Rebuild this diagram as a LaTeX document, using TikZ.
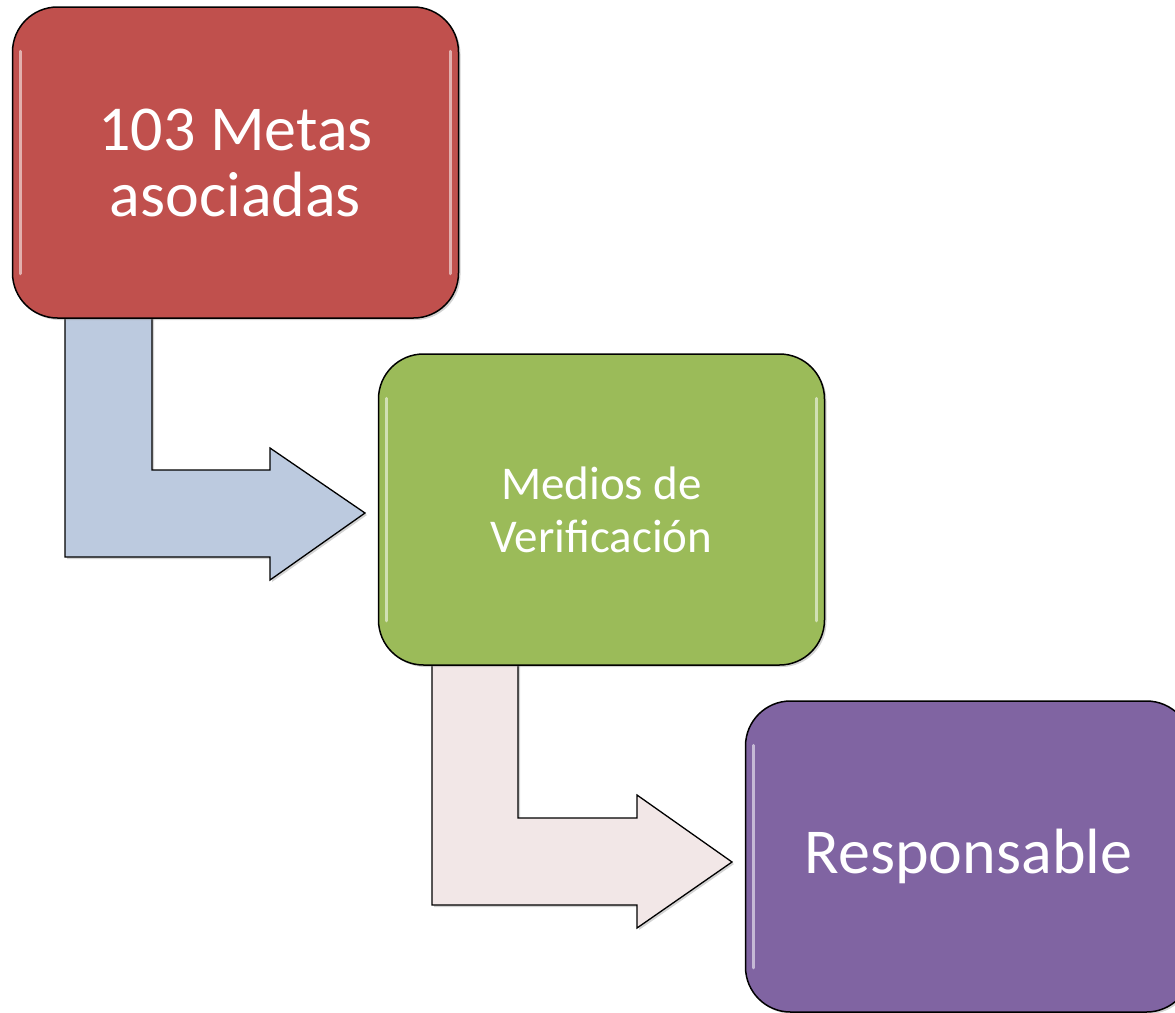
\documentclass[tikz,border=0pt]{standalone}
\usepackage{fontspec}
\setmainfont{Carlito}
\usetikzlibrary{shadows}
\definecolor{redbox}{HTML}{C0504D}
\definecolor{greenbox}{HTML}{9BBB59}
\definecolor{purplebox}{HTML}{8064A2}
\definecolor{bluearrow}{HTML}{BCCADF}
\definecolor{pinkarrow}{HTML}{F2E7E7}
\tikzset{
  stepbox/.style={draw=black, line width=1.5pt, rounded corners=45pt,
    minimum width=446pt, minimum height=311pt, inner sep=0pt,
    text=white, align=center,
    drop shadow={opacity=0.35, shadow xshift=2pt, shadow yshift=-2pt}},
  bentarrow/.style={draw=black, line width=1.3pt, line join=miter,
    drop shadow={opacity=0.35, shadow xshift=2pt, shadow yshift=-2pt}},
  gloss/.style={white, line width=3pt, opacity=0.55, line cap=round}
}
\begin{document}
\begin{tikzpicture}[x=1pt,y=-1pt]
\useasboundingbox (0,0) rectangle (1175,1012);
\clip (0,0) rectangle (1175,1012);
% bent arrows (drawn first, under the boxes)
\draw[bentarrow, fill=bluearrow] (65,300) -- (152,300) -- (152,470) -- (270,470) -- (270,448)
  -- (365,513) -- (270,580) -- (270,557) -- (65,557) -- cycle;
\draw[bentarrow, fill=pinkarrow] (432,650) -- (518,650) -- (518,818) -- (637,818) -- (637,795)
  -- (732,862) -- (637,928) -- (637,905) -- (432,905) -- cycle;
% boxes
\node[stepbox, fill=redbox, font=\fontsize{64}{66}\selectfont] (metas) at (235.5,162.5)
  {103 Metas\\asociadas};
\node[stepbox, fill=greenbox, font=\fontsize{47}{53}\selectfont] (medios) at (601.5,509.5)
  {Medios de\\Verificación};
\node[stepbox, fill=purplebox, font=\fontsize{64}{70}\selectfont] (resp) at (968.5,856.5)
  {Responsable};
% gloss highlights
\foreach \b in {metas,medios,resp}{
  \draw[gloss] ([xshift=9pt,yshift=-45pt]\b.north west) -- ([xshift=9pt,yshift=45pt]\b.south west);
  \draw[gloss] ([xshift=-9pt,yshift=-45pt]\b.north east) -- ([xshift=-9pt,yshift=45pt]\b.south east);
}
\end{tikzpicture}
\end{document}
